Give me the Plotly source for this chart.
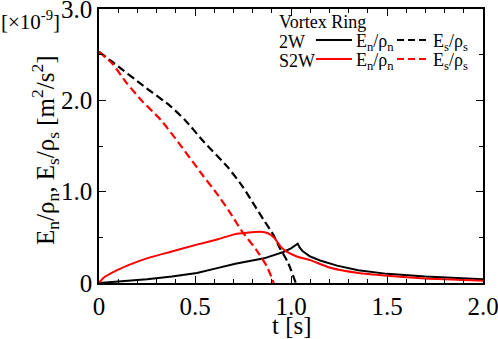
import plotly.graph_objects as go

# 2W, energy of normal fluid / superfluid  (x1e-9 m^2/s^2)
t_2w_n = [0, 0.1, 0.25, 0.38, 0.51, 0.61, 0.71, 0.86, 0.96, 1.0, 1.035, 1.045, 1.06, 1.1, 1.16, 1.24, 1.35, 1.5, 1.7, 2.0]
e_2w_n = [0, 0.015, 0.04, 0.07, 0.11, 0.16, 0.21, 0.27, 0.34, 0.38, 0.43, 0.39, 0.35, 0.29, 0.24, 0.19, 0.14, 0.10, 0.07, 0.04]
t_2w_s = [0, 0.07, 0.23, 0.37, 0.45, 0.54, 0.67, 0.75, 0.81, 0.855, 0.91, 0.94, 0.985, 1.025]
e_2w_s = [2.53, 2.42, 2.16, 1.94, 1.78, 1.56, 1.27, 1.05, 0.85, 0.70, 0.52, 0.39, 0.22, 0]

# S2W
t_s2w_n = [0, 0.02, 0.094, 0.17, 0.25, 0.37, 0.51, 0.62, 0.71, 0.77, 0.84, 0.88, 0.91, 0.95, 0.98, 1.03, 1.1, 1.2, 1.35, 1.5, 1.7, 2.0]
e_s2w_n = [0, 0.05, 0.14, 0.21, 0.27, 0.34, 0.42, 0.48, 0.535, 0.55, 0.56, 0.545, 0.50, 0.39, 0.34, 0.29, 0.25, 0.17, 0.11, 0.08, 0.05, 0.025]
t_s2w_s = [0, 0.07, 0.14, 0.23, 0.32, 0.42, 0.54, 0.61, 0.68, 0.74, 0.82, 0.875, 0.91]
e_s2w_s = [2.53, 2.40, 2.20, 1.98, 1.79, 1.52, 1.18, 0.99, 0.78, 0.58, 0.36, 0.18, 0]

FONT = "Times New Roman, Liberation Serif, serif"
dash = "8px,4px"

fig = go.Figure()
fig.add_trace(go.Scatter(x=t_2w_n, y=e_2w_n, mode="lines", line=dict(color="black", width=2)))
fig.add_trace(go.Scatter(x=t_2w_s, y=e_2w_s, mode="lines",
                         line=dict(color="black", width=2.2, dash=dash, shape="spline", smoothing=0.6)))
fig.add_trace(go.Scatter(x=t_s2w_n, y=e_s2w_n, mode="lines",
                         line=dict(color="red", width=2, shape="spline", smoothing=0.5)))
fig.add_trace(go.Scatter(x=t_s2w_s, y=e_s2w_s, mode="lines",
                         line=dict(color="red", width=2.2, dash=dash, shape="spline", smoothing=0.6)))

axis_common = dict(showline=True, linecolor="black", linewidth=1.5, mirror="ticks",
                   ticks="inside", ticklen=7, tickwidth=1.2, tickcolor="black",
                   showgrid=False, zeroline=False, automargin=False,
                   ticklabeloverflow="allow",
                   tickfont=dict(family=FONT, size=25, color="black"))

fig.update_xaxes(range=[0, 2.0], tickvals=[0, 0.5, 1.0, 1.5, 2.0],
                 ticktext=["0", "0.5", "1.0", "1.5", "2.0"],
                 minor=dict(dtick=0.1, ticks="inside", ticklen=4, tickcolor="black"),
                 **axis_common)
fig.update_yaxes(range=[0, 3.0], tickvals=[0, 1.0, 2.0, 3.0],
                 ticktext=["0", "1.0", "2.0", "3.0"],
                 minor=dict(dtick=0.5, ticks="inside", ticklen=4, tickcolor="black"),
                 **axis_common)

fig.update_layout(
    width=498, height=339,
    margin=dict(l=99, r=15, t=9, b=56),
    plot_bgcolor="white", paper_bgcolor="white",
    showlegend=False,
)

# text placed in pixel terms (px -> paper)
def px_x(px):
    return (px - 99) / 384.0

def px_y(py):
    return (283 - py) / 274.0

big_font = dict(family=FONT, size=25, color="black")
fig.add_annotation(x=px_x(-1), y=px_y(20), xref="paper", yref="paper", text="[×10<sup>-9</sup>]",
                   xanchor="left", yanchor="middle", showarrow=False,
                   font=dict(family=FONT, size=21, color="black"))
fig.add_annotation(x=px_x(292), y=px_y(325), xref="paper", yref="paper", text="t [s]",
                   xanchor="center", yanchor="middle", showarrow=False, font=big_font)
fig.add_annotation(x=px_x(45), y=px_y(150), xref="paper", yref="paper", textangle=-90,
                   text="E<sub>n</sub>/ρ<sub>n</sub>, E<sub>s</sub>/ρ<sub>s</sub> [m<sup>2</sup>/s<sup>2</sup>]",
                   xanchor="center", yanchor="middle", showarrow=False, font=big_font)

leg_font = dict(family=FONT, size=18, color="black")
fig.add_annotation(x=px_x(277), y=px_y(22), xref="paper", yref="paper", text="Vortex Ring",
                   xanchor="left", yanchor="middle", showarrow=False, font=leg_font)
rows = [("2W", "black", 42), ("S2W", "red", 61)]
for name, col, py in rows:
    fig.add_annotation(x=px_x(277), y=px_y(py), xref="paper", yref="paper", text=name,
                       xanchor="left", yanchor="middle", showarrow=False, font=leg_font)
    fig.add_shape(type="line", xref="paper", yref="paper", x0=px_x(316), x1=px_x(352),
                  y0=px_y(py - 2), y1=px_y(py - 2), line=dict(color=col, width=2))
    fig.add_annotation(x=px_x(354), y=px_y(py), xref="paper", yref="paper",
                       text="E<sub>n</sub>/ρ<sub>n</sub>",
                       xanchor="left", yanchor="middle", showarrow=False, font=leg_font)
    fig.add_shape(type="line", xref="paper", yref="paper", x0=px_x(397), x1=px_x(430),
                  y0=px_y(py - 2), y1=px_y(py - 2), line=dict(color=col, width=2, dash="7px,4px"))
    fig.add_annotation(x=px_x(431), y=px_y(py), xref="paper", yref="paper",
                       text="E<sub>s</sub>/ρ<sub>s</sub>",
                       xanchor="left", yanchor="middle", showarrow=False, font=leg_font)

# page has a default 8px body margin; drop it so the figure sits at the corner
fig.write_html("out.html", config={"displayModeBar": False},
               post_script="document.body.style.margin='0';")
